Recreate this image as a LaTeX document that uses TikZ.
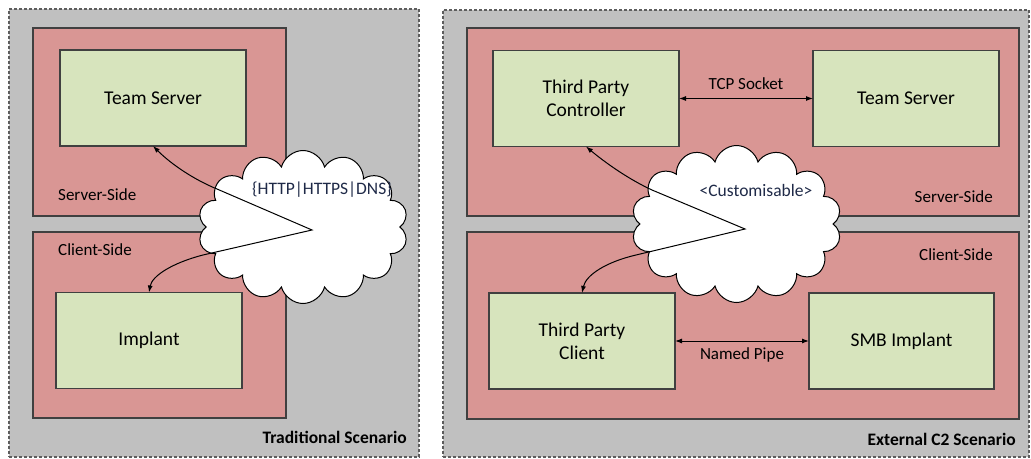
\documentclass[tikz,border=0pt]{standalone}
\usepackage{fontspec}
\setmainfont{Carlito}
\usetikzlibrary{positioning,arrows.meta,calc,shapes.symbols}
\definecolor{PanelGrey}{HTML}{C0C0C0}
\definecolor{ZoneRed}{HTML}{D99694}
\definecolor{BoxGreen}{HTML}{D7E4BD}
\definecolor{Edge}{HTML}{404040}
\definecolor{WireBlue}{HTML}{1F2A48}
\newcommand{\Tag}{\fontsize{17}{20}\selectfont}
\tikzset{
  panel/.style={draw=Edge!85, fill=PanelGrey, line width=1.3pt, dash pattern=on 3pt off 2pt,
                inner sep=0pt, outer sep=0pt},
  zone/.style={draw=Edge, fill=ZoneRed, line width=1.4pt, inner sep=0pt, outer sep=0pt},
  unit/.style={draw=Edge, fill=BoxGreen, line width=1.4pt, align=center, outer sep=0pt,
               minimum width=186pt, minimum height=96pt, font=\fontsize{19.5}{23}\selectfont},
  tag/.style={font=\Tag, inner sep=0pt},
  net/.style={cloud, cloud puffs=14, aspect=1.38, draw=black, fill=white, line width=1pt,
              minimum width=210pt, minimum height=153pt, inner sep=0pt},
  link/.style={{Latex[length=7pt,width=5pt]}-{Latex[length=7pt,width=5pt]}, line width=1pt},
}

\begin{document}
\begin{tikzpicture}[x=1pt, y=-1pt]
  \useasboundingbox (0,0) rectangle (1031,458);

  % traditional scenario
  \node[panel, minimum width=410pt, minimum height=448pt] (tradFrame) at (214,233) {};
  \node[zone, minimum width=253pt, minimum height=188pt] (tradSrv) at (159.5,122) {};
  \node[zone, minimum width=253pt, minimum height=186pt] (tradCli) at (159.5,325) {};
  \node[unit] (tradTeam) at (153,98) {Team Server};
  \node[unit] (tradImpl) at (149,340.5) {Implant};
  \node[tag, anchor=west] (tradSrvLbl) at ($(tradSrv.south west)+(25,-21)$) {Server-Side};
  \node[tag, anchor=west] (tradCliLbl) at ($(tradCli.north west)+(25,18)$) {Client-Side};
  \node[tag, anchor=east, font=\fontsize{17.5}{20}\selectfont\bfseries] (tradName) at ($(tradFrame.south east)+(-12,-20)$) {Traditional Scenario};
  \node[net] (tradNet) at (303,227) {};
  \node[tag, text=WireBlue, font=\fontsize{17.5}{20}\selectfont] (tradProto) at ($(tradNet)+(19,-37)$) {\{HTTP|HTTPS|DNS\}};
  \coordinate (tradTip) at (312,230);
  \draw[link] (tradTeam.south) .. controls (172,165) and (195,180) .. (217,189)
    -- (tradTip) -- (203,255) .. controls (172,263) and (152,276) .. (tradImpl.north);

  % external c2 scenario
  \node[panel, minimum width=586pt, minimum height=447pt] (extFrame) at (736,233.5) {};
  \node[zone, minimum width=552pt, minimum height=188pt] (extSrv) at (743,122) {};
  \node[zone, minimum width=552pt, minimum height=187pt] (extCli) at (743,325.5) {};
  \node[unit] (tpCtrl) at (586,98.5) {Third Party\\Controller};
  \node[unit] (extTeam) at (906,98.5) {Team Server};
  \node[unit] (tpClient) at (582,341) {Third Party\\Client};
  \node[unit, minimum width=185pt] (smb) at (901.5,341) {SMB Implant};
  \node[tag, anchor=east] (extSrvLbl) at ($(extSrv.south east)+(-26,-19)$) {Server-Side};
  \node[tag, anchor=east] (extCliLbl) at ($(extCli.north east)+(-26,23)$) {Client-Side};
  \node[tag, anchor=east, font=\fontsize{17.5}{20}\selectfont\bfseries] (extName) at ($(extFrame.south east)+(-13,-18)$) {External C2 Scenario};
  \draw[link] (tpCtrl) -- node[tag, above=8pt] {TCP Socket} (extTeam);
  \draw[link] (tpClient) -- node[tag, below=6pt] {Named Pipe} (smb);
  \node[net, minimum height=157pt] (extNet) at (736.5,224) {};
  \node[tag, text=WireBlue, font=\fontsize{17.5}{20}\selectfont] (extProto) at ($(extNet)+(19.5,-34)$) {<Customisable>};
  \coordinate (extTip) at (745,229);
  \draw[link] (tpCtrl.south) .. controls (602,160) and (626,178) .. (652,190)
    -- (extTip) -- (636,255) .. controls (606,262) and (586,275) .. (tpClient.north);
\end{tikzpicture}
\end{document}
